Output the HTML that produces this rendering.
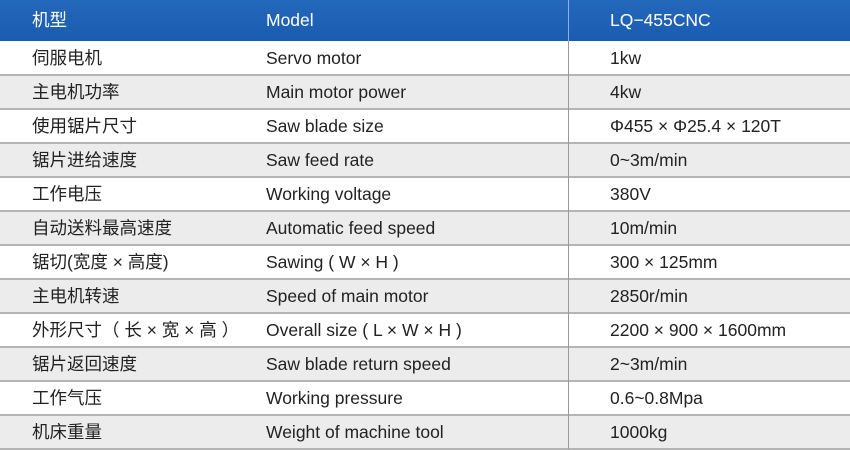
<!DOCTYPE html>
<html><head><meta charset="utf-8"><style>
body{margin:0;width:850px;height:449px;overflow:hidden;background:#fff;font-family:"Liberation Sans","Noto Sans CJK SC",sans-serif;}
.hdr{position:absolute;left:0;top:0;width:850px;height:41px;background:linear-gradient(#2468bb,#1a5cb0);color:#fff;font-size:17.5px;}
.row{position:absolute;left:0;width:850px;height:32px;border-bottom:2px solid #b4b4b4;color:#222;font-size:17.5px;}
.c{position:absolute;top:0;line-height:33px;white-space:nowrap;}
.hdr .c{line-height:40px;}
.c1{left:32px}.c2{left:266px}.c3{left:610px}
.vl{position:absolute;left:568px;top:0;width:1px;height:449px;background:#9a9a9a;}
.vh{position:absolute;left:568px;top:0;width:1px;height:41px;background:#8fb0dc;}
</style></head><body>
<div class="hdr">
<span class="c c1">机型</span>
<span class="c c2">Model</span>
<span class="c c3">LQ−455CNC</span>
</div>
<div id="rows"></div>
<div class="vl"></div>
<div class="vh"></div>
<script>
const cn=["伺服电机","主电机功率","使用锯片尺寸","锯片进给速度","工作电压","自动送料最高速度","锯切(宽度 × 高度)","主电机转速","外形尺寸（ 长 × 宽 × 高 ）","锯片返回速度","工作气压","机床重量"];
const en=["Servo motor","Main motor power","Saw blade size","Saw feed rate","Working voltage","Automatic feed speed","Sawing ( W × H )","Speed of main motor","Overall size ( L × W × H )","Saw blade return speed","Working pressure","Weight of machine tool"];
const vals=["1kw","4kw","Φ455 × Φ25.4 × 120T","0~3m/min","380V","10m/min","300 × 125mm","2850r/min","2200 × 900 × 1600mm","2~3m/min","0.6~0.8Mpa","1000kg"];
const root=document.getElementById('rows');
cn.forEach((t,i)=>{
 const r=document.createElement('div');
 r.className='row';
 
 
 r.style.top=(42+34*i)+'px';
 r.style.background=i%2?'#ececec':'#fff';
 [[t,'c1'],[en[i],'c2'],[vals[i],'c3']].forEach(([s,c])=>{
  const e=document.createElement('span');
  e.className='c '+c;
  
  
  e.textContent=s;r.appendChild(e);
 });
 root.appendChild(r);
});
</script>
</body></html>
